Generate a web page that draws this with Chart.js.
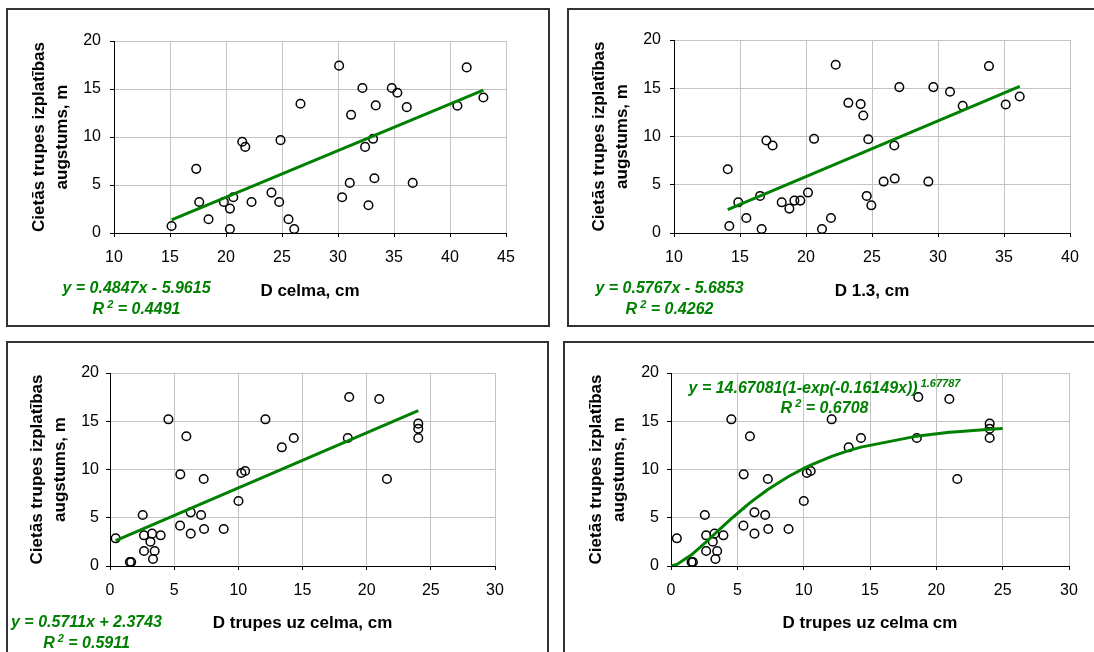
<!DOCTYPE html>
<html>
<head>
<meta charset="utf-8">
<script src="https://cdn.jsdelivr.net/npm/chart.js@4.4.0/dist/chart.umd.min.js"></script>
<style>
  body { margin: 0; width: 1094px; height: 652px; overflow: hidden; background: #fff; position: relative; }
  .panel { position: absolute; box-sizing: border-box; border: 2px solid #333; background: #fff; }
  .panel canvas { position: absolute; left: 0; top: 0; }
</style>
</head>
<body>
<div class="panel" style="left:6px;top:8px;width:544px;height:319px"><canvas id="c1" width="540" height="315"></canvas></div>
<div class="panel" style="left:567px;top:8px;width:600px;height:319px"><canvas id="c2" width="525" height="315"></canvas></div>
<div class="panel" style="left:6px;top:341px;width:543px;height:400px"><canvas id="c3" width="539" height="309"></canvas></div>
<div class="panel" style="left:563px;top:341px;width:600px;height:400px"><canvas id="c4" width="529" height="309"></canvas></div>
<script>
// stump diameter vs. rot height
const dCelma = [15.14, 17.34, 17.61, 18.44, 19.81, 20.35, 20.35, 20.65, 21.45, 21.72, 22.28, 24.06, 24.75, 24.87, 25.58, 26.09, 26.65,
  30.10, 30.37, 31.05, 31.17, 32.18, 32.42, 32.72, 33.13, 33.25, 33.37, 34.80, 35.30, 36.14, 36.67, 40.66, 41.49, 42.98];
const hCelma = [0.73, 6.68, 3.23, 1.43, 3.23, 2.54, 0.42, 3.72, 9.50, 8.97, 3.23, 4.21, 3.23, 9.67, 1.43, 0.42, 13.46,
  17.43, 3.72, 5.22, 12.31, 15.10, 8.97, 2.89, 9.81, 5.70, 13.29, 15.10, 14.61, 13.11, 5.22, 13.25, 17.25, 14.12];

// breast height diameter vs. rot height
const d13 = [14.07, 14.19, 14.87, 15.48, 16.52, 16.64, 17.00, 17.47, 18.16, 18.74, 19.12, 19.57, 20.15, 20.61, 21.21, 21.89, 22.25,
  23.21, 24.14, 24.34, 24.60, 24.72, 24.95, 25.88, 26.69, 26.72, 27.07, 29.27, 29.65, 30.91, 31.87, 33.86, 35.13, 36.19];
const h13 = [6.61, 0.73, 3.18, 1.56, 3.84, 0.42, 9.58, 9.07, 3.18, 2.53, 3.36, 3.36, 4.19, 9.76, 0.42, 1.56, 17.44,
  13.49, 13.36, 12.18, 3.84, 9.72, 2.87, 5.33, 9.07, 5.64, 15.12, 5.33, 15.12, 14.64, 13.18, 17.30, 13.32, 14.15];

// rot diameter on the stump vs. rot height
const dTrupe = [0.44, 1.55, 1.65, 2.55, 2.65, 2.65, 3.15, 3.28, 3.35, 3.48, 3.95, 4.55, 5.46, 5.48, 5.95, 6.29, 6.29,
  7.10, 7.30, 7.33, 8.86, 10.01, 10.24, 10.53, 12.11, 13.39, 14.32, 18.53, 18.64, 20.98, 21.58, 24.02, 24.02, 24.02];
const hTrupe = [2.87, 0.41, 0.41, 5.28, 3.18, 1.55, 2.52, 3.35, 0.73, 1.55, 3.18, 15.20, 4.18, 9.50, 13.44, 5.56, 3.35,
  5.28, 9.02, 3.83, 3.83, 6.74, 9.64, 9.84, 15.20, 12.30, 13.26, 13.26, 17.51, 17.31, 9.02, 14.75, 14.23, 13.26];

// regression coefficients [slope, intercept] and R2
const linCelma = [0.4847, -5.9615], r2Celma = 0.4491;
const lin13 = [0.5767, -5.6853], r213 = 0.4262;
const linTrupe = [0.5711, 2.3743], r2Trupe = 0.5911;
// y = a(1-exp(-k x))^c
const crTrupe = [14.67081, 0.16149, 1.67787], r2Cr = 0.6708;
const crRange = [0, 25];

const yTitle = ['Cietās trupes izplatības', 'augstums, m'];
const yTicks = [0, 20, 5];

const GREEN = '#008000';
const GRID = '#c4c4c4';
Chart.defaults.font.family = "'Liberation Sans', Arial, sans-serif";

const toPts = (xs, ys) => xs.map((x, i) => ({ x: x, y: ys[i] }));

function linLine(xs, c) {
  const lo = Math.min(...xs), hi = Math.max(...xs);
  return [lo, hi].map(x => ({ x: x, y: c[0] * x + c[1] }));
}

function crLine(xs, c) {
  const sorted = [...new Set(xs)].sort((a, b) => a - b);
  const pts = [crRange[0], ...sorted, crRange[1]];
  return pts.map(x => ({ x: x, y: c[0] * Math.pow(1 - Math.exp(-c[1] * x), c[2]) }));
}

function linText(c) {
  const sign = c[1] < 0 ? ' - ' : ' + ';
  return 'y = ' + c[0] + 'x' + sign + Math.abs(c[1]);
}

function r2Parts(r) {
  return [{ text: 'R' }, { text: ' 2', sup: true }, { text: ' = ' + r }];
}

// equation / R2 text under or inside each plot
const fitText = {
  id: 'fitText',
  afterDraw(chart, args, opts) {
    const ctx = chart.ctx;
    ctx.save();
    ctx.fillStyle = GREEN;
    ctx.textBaseline = 'middle';
    ctx.textAlign = 'left';
    const mainFont = "italic bold 16px 'Liberation Sans', Arial, sans-serif";
    const supFont = "italic bold 11px 'Liberation Sans', Arial, sans-serif";
    opts.lines.forEach(line => {
      const widths = line.parts.map(p => {
        ctx.font = p.sup ? supFont : mainFont;
        return ctx.measureText(p.text).width;
      });
      let x = opts.x - widths.reduce((a, b) => a + b, 0) / 2;
      line.parts.forEach((p, i) => {
        ctx.font = p.sup ? supFont : mainFont;
        ctx.fillText(p.text, x, line.y + (p.sup ? -5 : 0));
        x += widths[i];
      });
    });
    ctx.restore();
  }
};

function makePanel(id, p) {
  new Chart(document.getElementById(id), {
    type: 'scatter',
    data: {
      datasets: [
        { data: p.fit, showLine: true, borderColor: GREEN, borderWidth: 3, pointRadius: 0, tension: 0 },
        { data: p.pts, pointRadius: 4.3, pointBorderWidth: 1.5, pointBorderColor: '#000',
          pointBackgroundColor: 'rgba(0,0,0,0)' }
      ]
    },
    options: {
      responsive: false,
      animation: false,
      devicePixelRatio: 1,
      layout: { padding: { left: 0, top: p.top, right: p.right, bottom: 0 } },
      plugins: {
        legend: { display: false },
        tooltip: { enabled: false },
        fitText: { x: p.labelX, lines: p.lines }
      },
      scales: {
        x: {
          type: 'linear', min: p.xMin, max: p.xMax,
          ticks: { stepSize: 5, color: '#000', font: { size: 16 }, padding: 11 },
          grid: { color: GRID, tickColor: '#000', tickLength: 4 },
          border: { color: '#000', width: 1 },
          title: { display: true, text: p.xTitle, color: '#000', font: { size: 17, weight: 'bold' },
            padding: { top: 0, bottom: p.xTitlePad } },
          afterFit: s => { s.height = p.xH; }
        },
        y: {
          min: yTicks[0], max: yTicks[1],
          ticks: { stepSize: yTicks[2], color: '#000', font: { size: 16 }, padding: p.yTickPad },
          grid: { color: GRID, tickColor: '#000', tickLength: 4 },
          border: { color: '#000', width: 1 },
          title: { display: true, text: yTitle, color: '#000', font: { size: 17, weight: 'bold', lineHeight: '23px' },
            padding: { top: p.yTitlePad, bottom: 0 } },
          afterFit: s => { s.width = p.left; }
        }
      }
    },
    plugins: [fitText]
  });
}

makePanel('c1', {
  pts: toPts(dCelma, hCelma), fit: linLine(dCelma, linCelma),
  xMin: 10, xMax: 45, xTitle: 'D celma, cm',
  left: 106, top: 31, right: 42, xH: 92, xTitlePad: 23, yTitlePad: 20, yTickPad: 9,
  labelX: 128.5,
  lines: [{ y: 279, parts: [{ text: linText(linCelma) }] }, { y: 300, parts: r2Parts(r2Celma) }]
});

makePanel('c2', {
  pts: toPts(d13, h13), fit: linLine(d13, lin13),
  xMin: 10, xMax: 40, xTitle: 'D 1.3, cm',
  left: 105, top: 30, right: 24, xH: 92, xTitlePad: 23, yTitlePad: 19, yTickPad: 9,
  labelX: 100.5,
  lines: [{ y: 279, parts: [{ text: linText(lin13) }] }, { y: 300, parts: r2Parts(r213) }]
});

makePanel('c3', {
  pts: toPts(dTrupe, hTrupe), fit: linLine(dTrupe, linTrupe),
  xMin: 0, xMax: 30, xTitle: 'D trupes uz celma, cm',
  left: 102, top: 30, right: 52, xH: 86, xTitlePad: 18, yTitlePad: 18, yTickPad: 7,
  labelX: 78.5,
  lines: [{ y: 279.5, parts: [{ text: linText(linTrupe) }] }, { y: 300.5, parts: r2Parts(r2Trupe) }]
});

makePanel('c4', {
  pts: toPts(dTrupe, hTrupe), fit: crLine(dTrupe, crTrupe),
  xMin: 0, xMax: 30, xTitle: 'D trupes uz celma cm',
  left: 106, top: 30, right: 25, xH: 86, xTitlePad: 18.5, yTitlePad: 20, yTickPad: 8,
  labelX: 259.5,
  lines: [
    { y: 45.5, parts: [{ text: 'y = ' + crTrupe[0] + '(1-exp(-' + crTrupe[1] + 'x))' }, { text: ' ' + crTrupe[2], sup: true }] },
    { y: 66, parts: r2Parts(r2Cr) }
  ]
});
</script>
</body>
</html>
